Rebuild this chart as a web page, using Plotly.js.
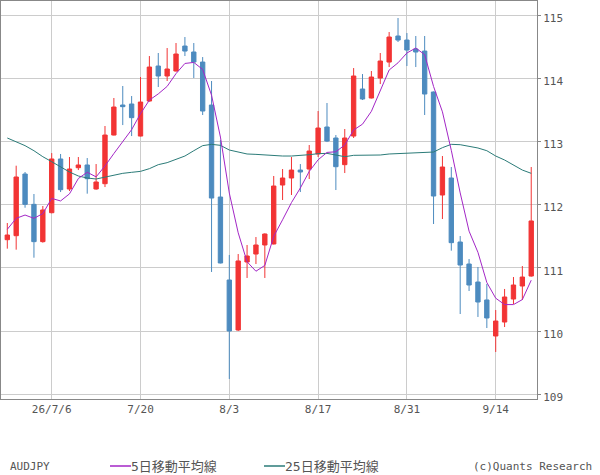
<!DOCTYPE html>
<html>
<head>
<meta charset="utf-8">
<script src="https://cdn.plot.ly/plotly-3.0.1.min.js"></script>
<style>html,body{margin:0;padding:0;background:#fff;}#chart{width:600px;height:475px;}</style>
</head>
<body>
<div id="chart"></div>
<script>
const dates = [
"2026-06-29","2026-06-30","2026-07-01","2026-07-02","2026-07-03",
"2026-07-06","2026-07-07","2026-07-08","2026-07-09","2026-07-10",
"2026-07-13","2026-07-14","2026-07-15","2026-07-16","2026-07-17",
"2026-07-20","2026-07-21","2026-07-22","2026-07-23","2026-07-24",
"2026-07-27","2026-07-28","2026-07-29","2026-07-30","2026-07-31",
"2026-08-03","2026-08-04","2026-08-05","2026-08-06","2026-08-07",
"2026-08-10","2026-08-11","2026-08-12","2026-08-13","2026-08-14",
"2026-08-17","2026-08-18","2026-08-19","2026-08-20","2026-08-21",
"2026-08-24","2026-08-25","2026-08-26","2026-08-27","2026-08-28",
"2026-08-31","2026-09-01","2026-09-02","2026-09-03","2026-09-04",
"2026-09-07","2026-09-08","2026-09-09","2026-09-10","2026-09-11",
"2026-09-14","2026-09-15","2026-09-16","2026-09-17","2026-09-18"];

const openP = [111.445,111.508,112.484,112.004,111.414,111.872,112.722,112.247,112.584,112.627,
112.247,112.331,113.101,113.576,113.592,113.085,113.639,114.193,114.035,114.114,
114.509,114.415,114.256,113.576,112.120,110.807,110.016,111.092,111.218,111.361,
111.377,112.310,112.421,112.547,112.563,112.801,113.228,113.054,112.632,113.085,
113.829,113.687,114.003,114.256,114.668,114.604,114.462,114.430,113.782,112.152,
112.421,111.408,111.060,110.775,110.491,109.921,110.142,110.506,110.712,110.870];

const highP = [111.709,112.616,112.516,112.168,111.978,112.816,112.801,112.753,112.753,112.737,
112.642,113.244,113.687,113.877,113.718,114.019,114.351,114.399,114.478,114.557,
114.652,114.557,114.335,113.956,113.022,111.203,111.218,111.361,111.487,111.545,
112.453,112.563,112.753,112.642,112.943,113.481,113.608,113.101,113.196,114.161,
114.066,114.114,114.399,114.731,114.953,114.715,114.668,114.668,113.790,112.769,
112.595,111.503,111.139,111.013,110.744,110.332,110.665,110.854,111.028,112.595];

const lowP = [111.303,111.287,111.951,111.160,111.398,111.862,112.199,112.215,112.547,112.173,
112.236,112.278,113.095,113.259,113.085,113.080,113.630,113.861,113.956,114.105,
114.351,114.003,113.418,110.934,111.070,109.241,110.000,110.839,111.060,110.839,
111.370,112.073,112.152,112.199,112.405,112.753,112.990,112.231,112.500,113.054,
113.655,113.680,113.908,114.177,114.573,114.193,114.177,113.418,111.693,111.772,
111.271,110.269,110.633,110.222,110.047,109.668,110.063,110.427,110.491,110.860];

const closeP = [111.519,112.437,112.004,111.414,111.915,112.722,112.236,112.563,112.627,112.410,
112.358,113.101,113.544,113.550,113.376,113.623,114.177,114.035,114.146,114.383,
114.430,114.256,113.481,112.104,111.076,110.000,111.108,111.187,111.361,111.535,
112.294,112.421,112.547,112.516,112.848,113.212,113.006,112.600,113.054,114.035,
113.671,114.019,114.272,114.652,114.604,114.446,114.415,113.750,112.136,112.595,
111.398,111.044,110.728,110.459,110.206,110.158,110.538,110.728,110.854,111.741];

const ma5 = [111.609,111.783,111.835,111.783,111.858,112.098,112.058,112.170,112.413,112.512,
112.439,112.612,112.808,112.993,113.186,113.439,113.654,113.752,113.871,114.073,
114.234,114.250,114.139,113.731,113.069,112.183,111.554,111.095,110.946,111.038,
111.497,111.760,112.032,112.263,112.525,112.709,112.826,112.836,112.944,113.181,
113.273,113.476,113.810,114.130,114.244,114.399,114.478,114.373,113.870,113.468,
112.859,112.185,111.580,111.245,110.767,110.519,110.418,110.418,110.497,110.804];

const ma25 = [113.054,112.996,112.933,112.853,112.758,112.679,112.600,112.516,112.453,112.421,
112.405,112.437,112.468,112.495,112.511,112.526,112.569,112.632,112.664,112.716,
112.769,112.853,112.933,112.954,112.938,112.864,112.827,112.801,112.795,112.785,
112.774,112.769,112.769,112.774,112.790,112.806,112.811,112.785,112.758,112.780,
112.780,112.780,112.785,112.801,112.806,112.811,112.827,112.827,112.832,112.901,
112.954,112.948,112.927,112.896,112.853,112.769,112.706,112.632,112.547,112.495];

const tickDates = ["2026-07-06","2026-07-20","2026-08-03","2026-08-17","2026-08-31","2026-09-14"];
const tickLabels = ["26/7/6","7/20","8/3","8/17","8/31","9/14"];
const yTicks = [109,110,111,112,113,114,115];

const RED = "#f23434";
const BLUE = "#4d8bbf";
const PURPLE = "#a326c6";
const TEAL = "#2b7b78";
const FONT = "DejaVu Sans Mono, Noto Sans CJK JP, monospace";

const traces = [
  {
    type: "candlestick", x: dates, open: openP, high: highP, low: lowP, close: closeP,
    increasing: {line: {color: RED, width: 1}, fillcolor: RED},
    decreasing: {line: {color: BLUE, width: 1}, fillcolor: BLUE},
    whiskerwidth: 0, showlegend: false, hoverinfo: "skip"
  },
  {type: "scatter", mode: "lines", x: dates, y: ma25, line: {color: TEAL, width: 1}, showlegend: false, hoverinfo: "skip"},
  {type: "scatter", mode: "lines", x: dates, y: ma5, line: {color: PURPLE, width: 1}, showlegend: false, hoverinfo: "skip"}
];

function px(x) { return (x - 1) / 536; }
function py(y) { return (399 - y) / 398; }

const layout = {
  width: 600, height: 475,
  margin: {l: 1, r: 63, t: 1, b: 76, pad: 0},
  paper_bgcolor: "#ffffff", plot_bgcolor: "#ffffff",
  font: {family: FONT, size: 11, color: "#555555"},
  showlegend: false,
  xaxis: {
    type: "category", range: [-0.71, 59.65],
    tickmode: "array", tickvals: tickDates, ticktext: tickLabels,
    showgrid: true, gridcolor: "#cccccc", gridwidth: 1,
    showline: true, linecolor: "#888888", linewidth: 1, mirror: true,
    ticks: "", rangeslider: {visible: false}, fixedrange: true,
    tickfont: {family: FONT, size: 11, color: "#555555"}
  },
  yaxis: {
    side: "right", range: [108.924, 115.222],
    tickmode: "array", tickvals: yTicks, ticktext: yTicks.map(String),
    showgrid: true, gridcolor: "#cccccc", gridwidth: 1, zeroline: false,
    showline: true, linecolor: "#888888", linewidth: 1, mirror: true,
    ticks: "outside", ticklen: 3, tickcolor: "#888888", ticklabelshift: 3,
    tickfont: {family: FONT, size: 11, color: "#555555"}, fixedrange: true
  },
  shapes: [
    {type: "line", xref: "paper", yref: "paper", x0: px(110), x1: px(131), y0: py(466), y1: py(466), line: {color: PURPLE, width: 1.5}},
    {type: "line", xref: "paper", yref: "paper", x0: px(264), x1: px(285), y0: py(466), y1: py(466), line: {color: TEAL, width: 1.5}}
  ],
  annotations: [
    {xref: "paper", yref: "paper", x: px(8), y: py(466), xanchor: "left", yanchor: "middle", text: "AUDJPY", showarrow: false, font: {family: FONT, size: 11, color: "#555555"}},
    {xref: "paper", yref: "paper", x: px(129), y: py(466), xanchor: "left", yanchor: "middle", text: "5日移動平均線", showarrow: false, font: {family: FONT, size: 13, color: "#555555"}},
    {xref: "paper", yref: "paper", x: px(283), y: py(466), xanchor: "left", yanchor: "middle", text: "25日移動平均線", showarrow: false, font: {family: FONT, size: 13, color: "#555555"}},
    {xref: "paper", yref: "paper", x: px(594), y: py(466), xanchor: "right", yanchor: "middle", text: "(c)Quants Research", showarrow: false, font: {family: FONT, size: 11, color: "#555555"}}
  ]
};

Plotly.newPlot("chart", traces, layout, {staticPlot: true, displayModeBar: false});
</script>
</body>
</html>
